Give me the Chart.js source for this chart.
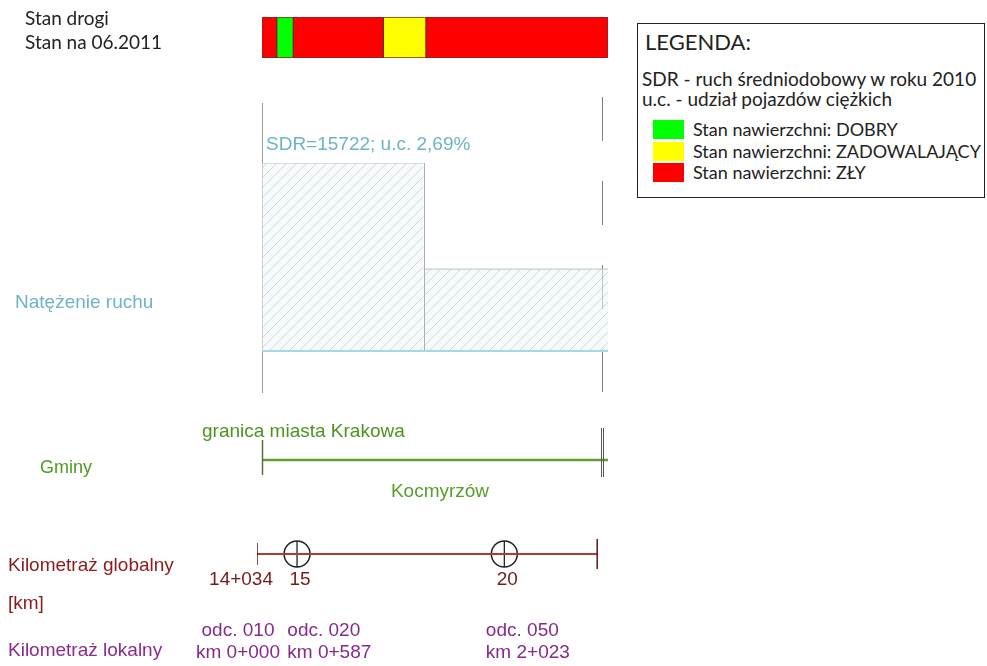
<!DOCTYPE html>
<html lang="pl">
<head>
<meta charset="utf-8">
<title>Stan drogi - wykres liniowy</title>
<script src="https://cdn.jsdelivr.net/npm/chart.js@4.4.1/dist/chart.umd.min.js"></script>
<style>
  html, body { margin: 0; padding: 0; background: #fff; }
  #wrap { position: relative; width: 987px; height: 666px; overflow: hidden; }
  #wrap canvas { position: absolute; left: 0; top: 0; }
  .lbl { position: absolute; white-space: nowrap; font-family: "Liberation Sans", Arial, sans-serif; font-size: 19px; line-height: 24px; }
  .cal { font-family: Lato, "Open Sans", sans-serif; color: #222; }
  #legend { position: absolute; left: 637px; top: 23px; width: 346px; height: 173px; border: 1px solid #222; background: #fff; }
  .sw { position: absolute; left: 15px; width: 31px; height: 19px; }
</style>
</head>
<body>
<div id="wrap">
  <div class="lbl cal" style="left:25px; top:6px;">Stan drogi</div>
  <div class="lbl cal" style="left:25px; top:30px;">Stan na 06.2011</div>
  <div class="lbl" style="left:15px; top:290px; color:#6cb4c6;">Natężenie ruchu</div>
  <div class="lbl" style="left:40px; top:455px; font-size:18px; color:#4e9a22;">Gminy</div>
  <div class="lbl" style="left:8px; top:553px; color:#8b1a1a;">Kilometraż globalny</div>
  <div class="lbl" style="left:8px; top:591px; color:#8b1a1a;">[km]</div>
  <div class="lbl" style="left:8px; top:638px; color:#8b2a8b;">Kilometraż lokalny</div>

  <div id="legend">
    <div class="lbl cal" style="left:7px; top:6px; font-size:22px;">LEGENDA:</div>
    <div class="lbl cal" style="left:4px; top:43px;">SDR - ruch średniodobowy w roku 2010</div>
    <div class="lbl cal" style="left:4px; top:63px;">u.c. - udział pojazdów ciężkich</div>
    <div id="legendItems"></div>
  </div>
</div>

<script>
//-------------------------------------------------------------------------------------------------------
// dane
//-------------------------------------------------------------------------------------------------------
const X_MIN = 14.034;     // poczatek odcinka [km]
const X_MAX = 22.38;      // prawy koniec paska
const roadEnd = 22.24;    // koniec drogi

// stan nawierzchni, 06.2011
const condFrom = [14.034, 14.39, 14.79, 16.96, 17.99];
const condTo = [14.39, 14.79, 16.96, 17.99, 22.38];
const condState = ['ZŁY', 'DOBRY', 'ZŁY', 'ZADOWALAJĄCY', 'ZŁY'];

const stateNames = ['DOBRY', 'ZADOWALAJĄCY', 'ZŁY'];
const stateColors = ['#00ff00', '#ffff00', '#ff0000'];

// natezenie ruchu (SDR 2010)
const trafficFrom = [14.034, 17.93];
const trafficTo = [17.93, 22.38];
const trafficSDR = [15722, 6850];
const trafficLabel = ['SDR=15722; u.c. 2,69%', ''];

// gminy
const gminaBorderKm = [14.034];
const gminaBorderName = ['granica miasta Krakowa'];
const gminaFrom = [14.034];
const gminaTo = [22.38];
const gminaName = ['Kocmyrzów'];

// kilometraz globalny
const kmTicks = [14.034, 15, 20];
const kmTickLabels = ['14+034', '15', '20'];
const kmPosts = [15, 20];

// kilometraz lokalny
const sectionKm = [14.034, 14.621, 19.41];
const sectionName = ['odc. 010', 'odc. 020', 'odc. 050'];
const sectionLocal = ['km 0+000', 'km 0+587', 'km 2+023'];

//-------------------------------------------------------------------------------------------------------
const W = 987, H = 666;
const wrap = document.getElementById('wrap');
const FONT = '"Liberation Sans", Arial, sans-serif';

// legenda
const legendItems = document.getElementById('legendItems');
stateNames.forEach((s, i) => {
    const top = 96 + i * 21.5;
    legendItems.insertAdjacentHTML('beforeend',
        '<div class="sw" style="top:' + top + 'px; background:' + stateColors[i] + ';"></div>' +
        '<div class="lbl cal" style="left:55px; top:' + (top - 3) + 'px; font-size:18px;">Stan nawierzchni: ' + s + '</div>');
});

function makeCanvas() {
    const c = document.createElement('canvas');
    c.width = W;
    c.height = H;
    wrap.insertBefore(c, wrap.firstChild);
    return c;
}

function baseOptions(pad, yScale) {
    return {
        responsive: false,
        animation: false,
        events: [],
        layout: {padding: pad},
        plugins: {legend: {display: false}, tooltip: {enabled: false}},
        scales: {
            x: {type: 'linear', min: X_MIN, max: X_MAX, display: false},
            y: yScale
        }
    };
}

const topPad = (t, b) => ({left: 262, right: W - 608, top: t, bottom: H - b});

// wzor kreskowania
function hatch() {
    const p = document.createElement('canvas');
    p.width = 10;
    p.height = 10;
    const g = p.getContext('2d');
    g.fillStyle = 'rgba(240,247,249,0.6)';
    g.fillRect(0, 0, 10, 10);
    g.strokeStyle = 'rgba(150,165,170,0.5)';
    g.lineWidth = 0.8;
    g.beginPath();
    g.moveTo(-1, 11); g.lineTo(11, -1);
    g.moveTo(-1, 1); g.lineTo(1, -1);
    g.moveTo(9, 11); g.lineTo(11, 9);
    g.stroke();
    return g.createPattern(p, 'repeat');
}

/*------------------------------------------------------*/
// stan nawierzchni
/*------------------------------------------------------*/
const condChart = new Chart(makeCanvas(), {
    type: 'bar',
    data: {
        labels: ['Stan'],
        datasets: [{
            data: condFrom.map((f, i) => ({x: [f, condTo[i]], y: 'Stan'})),
            backgroundColor: condState.map(s => stateColors[stateNames.indexOf(s)]),
            borderColor: 'rgba(110,0,0,0.85)',
            borderWidth: 1,
            borderSkipped: false,
            barPercentage: 1,
            categoryPercentage: 1
        }]
    },
    options: Object.assign(baseOptions(topPad(17, 58), {type: 'category', display: false}), {indexAxis: 'y'})
});

/*------------------------------------------------------*/
// natezenie ruchu
/*------------------------------------------------------*/
const trafficPlugin = {
    id: 'traffic',
    beforeDatasetsDraw(chart) {
        const ctx = chart.ctx, x = chart.scales.x;
        ctx.save();
        ctx.lineWidth = 1;
        ctx.strokeStyle = '#9a9a9a';
        ctx.beginPath();
        ctx.moveTo(Math.round(x.getPixelForValue(X_MIN)) + 0.5, 103);
        ctx.lineTo(Math.round(x.getPixelForValue(X_MIN)) + 0.5, 393);
        ctx.stroke();
        ctx.strokeStyle = '#7c7c7c';
        ctx.setLineDash([44, 40]);
        ctx.beginPath();
        ctx.moveTo(Math.round(x.getPixelForValue(roadEnd)) + 0.5, 97);
        ctx.lineTo(Math.round(x.getPixelForValue(roadEnd)) + 0.5, 392);
        ctx.stroke();
        ctx.restore();
    },
    afterDatasetsDraw(chart) {
        const ctx = chart.ctx, x = chart.scales.x, y = chart.scales.y;
        ctx.save();
        // krawedzie odcinkow
        ctx.strokeStyle = '#a6b0b4';
        ctx.lineWidth = 1;
        trafficFrom.forEach((f, i) => {
            if (i === 0) return;
            const h = Math.max(trafficSDR[i], trafficSDR[i - 1]);
            const px = Math.round(x.getPixelForValue(f)) + 0.5;
            ctx.beginPath();
            ctx.moveTo(px, y.getPixelForValue(0));
            ctx.lineTo(px, y.getPixelForValue(h));
            ctx.stroke();
        });
        // linia bazowa
        ctx.strokeStyle = '#a3d8e4';
        ctx.lineWidth = 2;
        ctx.beginPath();
        ctx.moveTo(x.getPixelForValue(X_MIN), y.getPixelForValue(0));
        ctx.lineTo(x.getPixelForValue(X_MAX), y.getPixelForValue(0));
        ctx.stroke();
        // opisy SDR
        ctx.fillStyle = '#6cb4c6';
        ctx.font = '19px ' + FONT;
        ctx.textBaseline = 'middle';
        trafficLabel.forEach((t, i) => {
            if (t) ctx.fillText(t, x.getPixelForValue(trafficFrom[i]) + 4, y.getPixelForValue(trafficSDR[i]) - 18);
        });
        ctx.restore();
    }
};

const trafficChart = new Chart(makeCanvas(), {
    type: 'line',
    data: {
        datasets: trafficSDR.map((v, i) => ({
            data: [{x: trafficFrom[i], y: v}, {x: trafficTo[i], y: v}],
            fill: 'origin',
            backgroundColor: hatch(),
            borderColor: '#b8c2c6',
            borderWidth: 1,
            pointRadius: 0
        }))
    },
    options: baseOptions(topPad(163, 351), {type: 'linear', min: 0, max: 15722, display: false}),
    plugins: [trafficPlugin]
});

/*------------------------------------------------------*/
// gminy
/*------------------------------------------------------*/
const gminaPlugin = {
    id: 'gminy',
    afterDatasetsDraw(chart) {
        const ctx = chart.ctx, x = chart.scales.x;
        ctx.save();
        ctx.lineWidth = 1.5;
        ctx.strokeStyle = '#5a6b4c';
        gminaBorderKm.forEach(k => {
            const px = Math.round(x.getPixelForValue(k)) + 0.5;
            ctx.beginPath();
            ctx.moveTo(px, 440);
            ctx.lineTo(px, 475);
            ctx.stroke();
        });
        ctx.lineWidth = 1;
        ctx.strokeStyle = '#555';
        const pe = Math.round(x.getPixelForValue(roadEnd)) + 0.5;
        [-1, 1].forEach(d => {
            ctx.beginPath();
            ctx.moveTo(pe + d, 428);
            ctx.lineTo(pe + d, 477);
            ctx.stroke();
        });
        ctx.font = '19px ' + FONT;
        ctx.textBaseline = 'middle';
        ctx.fillStyle = '#4a9420';
        ctx.textAlign = 'left';
        gminaBorderKm.forEach((k, i) => ctx.fillText(gminaBorderName[i], x.getPixelForValue(k) - 60, 432));
        ctx.fillStyle = '#56a02a';
        ctx.textAlign = 'center';
        gminaName.forEach((n, i) => ctx.fillText(n, x.getPixelForValue((gminaFrom[i] + gminaTo[i]) / 2) + 5, 492));
        ctx.restore();
    }
};

const gminaChart = new Chart(makeCanvas(), {
    type: 'line',
    data: {
        datasets: gminaFrom.map((f, i) => ({
            data: [{x: f, y: 0}, {x: gminaTo[i], y: 0}],
            borderColor: '#5f9e30',
            borderWidth: 2.5,
            pointRadius: 0
        }))
    },
    options: baseOptions(topPad(440, 480), {type: 'linear', min: -1, max: 1, display: false}),
    plugins: [gminaPlugin]
});

/*------------------------------------------------------*/
// kilometraz globalny i lokalny
/*------------------------------------------------------*/
const kmPlugin = {
    id: 'km',
    afterDatasetsDraw(chart) {
        const ctx = chart.ctx, x = chart.scales.x;
        ctx.save();
        ctx.font = '19px ' + FONT;
        ctx.textBaseline = 'middle';
        ctx.fillStyle = '#741a1a';
        kmTicks.forEach((k, i) => {
            const px = x.getPixelForValue(k);
            ctx.textAlign = i === 0 ? 'right' : 'center';
            ctx.fillText(kmTickLabels[i], i === 0 ? px + 16 : px + 3, 580);
        });
        ctx.fillStyle = '#862a8c';
        sectionKm.forEach((k, i) => {
            const px = x.getPixelForValue(k);
            ctx.textAlign = i === 0 ? 'center' : 'left';
            const tx = i === 0 ? px - 19 : px + 6;
            ctx.fillText(sectionName[i], tx, 631);
            ctx.fillText(sectionLocal[i], tx, 653);
        });
        ctx.restore();
    }
};

const kmChart = new Chart(makeCanvas(), {
    type: 'line',
    data: {
        datasets: [
            {
                data: [{x: X_MIN, y: 0}, {x: roadEnd, y: 0}],
                borderColor: '#b03838',
                borderWidth: 2,
                pointStyle: 'line',
                pointRotation: 90,
                pointRadius: [11, 15],
                pointBorderColor: '#5e1414',
                pointBorderWidth: 1.5
            },
            {
                data: kmPosts.map(k => ({x: k, y: 0})),
                showLine: false,
                pointStyle: 'circle',
                pointRadius: 13,
                pointBackgroundColor: 'rgba(0,0,0,0)',
                pointBorderColor: '#222',
                pointBorderWidth: 1.5
            },
            {
                data: kmPosts.map(k => ({x: k, y: 0})),
                showLine: false,
                pointStyle: 'line',
                pointRotation: 90,
                pointRadius: 13,
                pointBorderColor: '#222',
                pointBorderWidth: 1.3
            }
        ]
    },
    options: baseOptions({left: 257, right: W - 603, top: 534, bottom: H - 574},
        {type: 'linear', min: -1, max: 1, display: false}),
    plugins: [kmPlugin]
});
</script>
</body>
</html>
